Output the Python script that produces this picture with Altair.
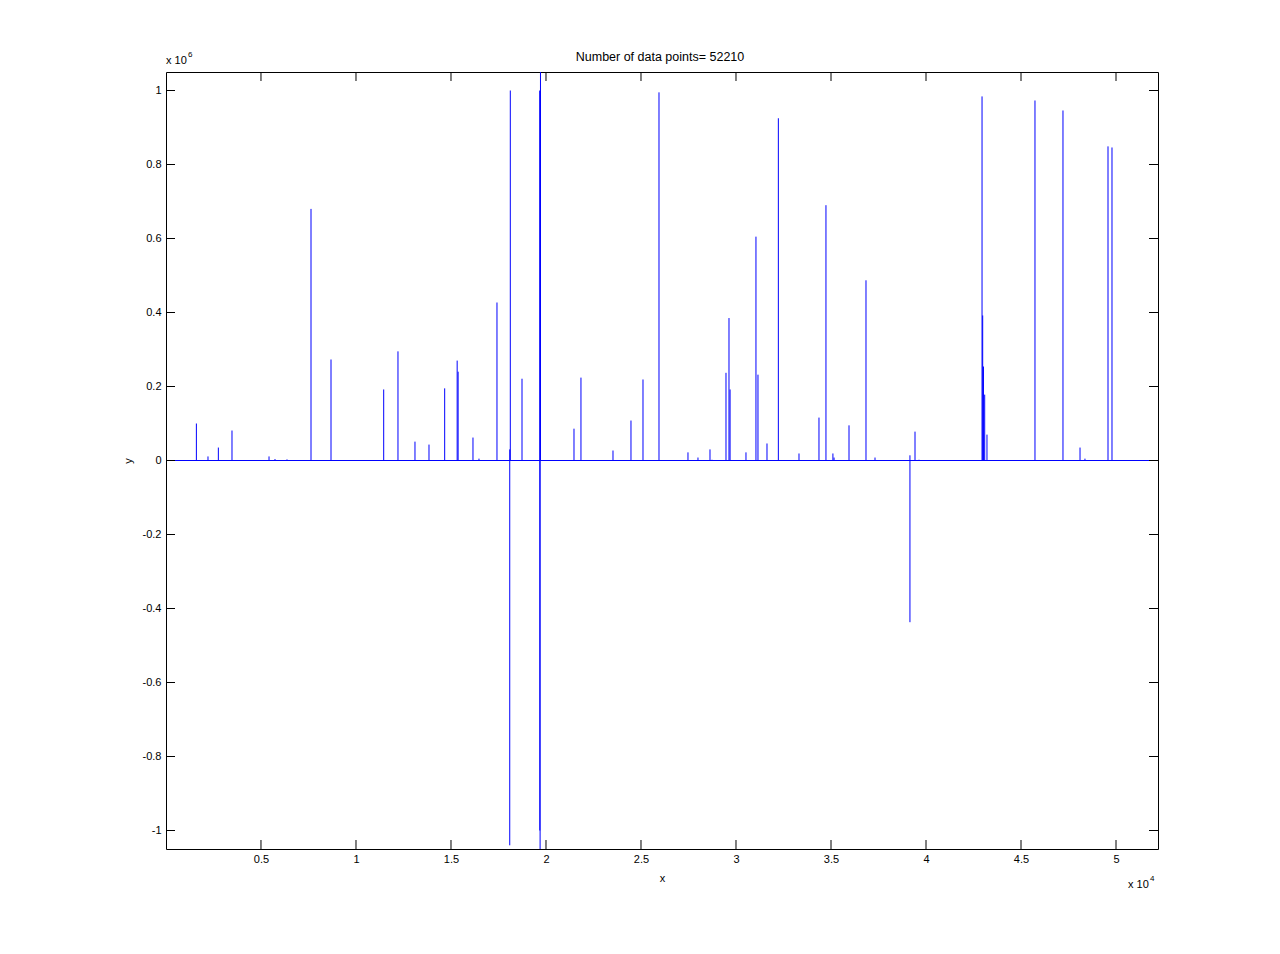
import altair as alt
import pandas as pd

# ---------------- data ----------------
x_min, x_max = 1, 52210
y_min, y_max = -1.05e6, 1.05e6

# positive spikes (x position, peak value)
spike_x = [1600, 2211, 2756, 3474, 5423, 5737, 6369, 7633, 8685, 11458,
           12210, 13105, 13842, 14668, 15325, 15375, 16157, 16473, 17420, 18092,
           18122, 18738, 19675, 19690, 19710, 21474, 21840, 23526, 24473, 25105,
           25947, 27473, 27999, 28631, 28736, 29473, 29631, 29688, 30525, 31051,
           31157, 31631, 32229, 33315, 34367, 34735, 35101, 35161, 35948, 36842,
           37316, 39155, 39421, 39631, 42949, 42984, 43024, 43089, 43209, 45735,
           47209, 48106, 48366, 49579, 49789]
spike_hi = [100000, 11000, 35000, 81000, 11000, 4000, 3000, 680000, 273000, 192000,
            295000, 51000, 43000, 195000, 270000, 240000, 62000, 5000, 427000, 30000,
            1000000, 221000, 1000000, 999000, 1300000, 86000, 224000, 27000, 108000, 219000,
            995000, 22000, 8000, 30000, 2000, 237000, 385000, 192000, 22000, 605000,
            232000, 46000, 925000, 19000, 116000, 690000, 19000, 8000, 95000, 487000,
            8000, 14000, 78000, 2000, 984000, 392000, 254000, 178000, 70000, 973000,
            946000, 35000, 5000, 849000, 846000]

# negative spikes (x position, lowest value)
neg_x = [18092, 19675, 19690, 39155]
neg_lo = [-1040000, -1000000, -1300000, -437000]

x_ticks = [5000, 10000, 15000, 20000, 25000, 30000, 35000, 40000, 45000, 50000]
y_ticks = [-1000000, -800000, -600000, -400000, -200000, 0,
           200000, 400000, 600000, 800000, 1000000]

title_text = "Number of data points= 52210"

# ---------------- chart ----------------
W, H = 992, 777
TL = 9  # tick length (inward)
BLUE = "#0000ff"
FONT = "Liberation Sans"

xs = alt.Scale(domain=[x_min, x_max], nice=False, zero=False)
ys = alt.Scale(domain=[y_min, y_max], nice=False, zero=False)

x_axis = alt.Axis(values=x_ticks, labelExpr="'' + datum.value/10000",
                  ticks=False, domain=False, grid=False, labelPadding=4,
                  title="x", titlePadding=8, labelFontSize=11, titleFontSize=11,
                  titleFontWeight="normal", labelFont=FONT, titleFont=FONT,
                  labelColor="black", titleColor="black", labelFlush=False)
y_axis = alt.Axis(values=y_ticks, labelExpr="'' + datum.value/1000000",
                  ticks=False, domain=False, grid=False, labelPadding=5,
                  title="y", titlePadding=9, labelFontSize=11, titleFontSize=11,
                  titleFontWeight="normal", labelFont=FONT, titleFont=FONT,
                  labelColor="black", titleColor="black", labelFlush=False)

X = lambda f: alt.X(f, scale=xs, axis=x_axis)
Y = lambda f: alt.Y(f, scale=ys, axis=y_axis)

pos_df = pd.DataFrame({"x": spike_x, "y": spike_hi, "y0": [0] * len(spike_x)})
neg_df = pd.DataFrame({"x": neg_x, "y": neg_lo, "y0": [0] * len(neg_x)})
base_df = pd.DataFrame({"x": [x_min], "x2": [x_max], "y": [0]})
xt_df = pd.DataFrame({"x": x_ticks})
yt_df = pd.DataFrame({"y": y_ticks})

pos = alt.Chart(pos_df).mark_rule(color=BLUE, strokeWidth=1, clip=True).encode(
    x=X("x:Q"), y=Y("y:Q"), y2="y0:Q")
neg = alt.Chart(neg_df).mark_rule(color=BLUE, strokeWidth=1, clip=True).encode(
    x=X("x:Q"), y=Y("y:Q"), y2="y0:Q")
base = alt.Chart(base_df).mark_rule(color=BLUE, strokeWidth=1, clip=True).encode(
    x=X("x:Q"), x2="x2:Q", y=Y("y:Q"))

tick_style = dict(color="black", strokeWidth=1)
t_bottom = alt.Chart(xt_df).mark_rule(**tick_style).encode(
    x=X("x:Q"), y=alt.value(H - TL), y2=alt.value(H))
t_top = alt.Chart(xt_df).mark_rule(**tick_style).encode(
    x=X("x:Q"), y=alt.value(0), y2=alt.value(TL))
t_left = alt.Chart(yt_df).mark_rule(**tick_style).encode(
    y=Y("y:Q"), x=alt.value(0), x2=alt.value(TL))
t_right = alt.Chart(yt_df).mark_rule(**tick_style).encode(
    y=Y("y:Q"), x=alt.value(W - TL), x2=alt.value(W))

def txt(s, x, y, size=11, align="left"):
    return alt.Chart(pd.DataFrame({"s": [s]})).mark_text(
        align=align, baseline="middle", fontSize=size, font=FONT, color="black"
    ).encode(x=alt.value(x), y=alt.value(y), text="s:N")

title_mark = txt(title_text, W / 2 - 2, -15, size=12.5, align="center")
exp_y_a = txt("x 10", 0, -11, size=11)
exp_y_b = txt("6", 22, -17, size=8)
exp_x_a = txt("x 10", W - 30, H + 36, size=11)
exp_x_b = txt("4", W - 8, H + 30, size=8)

chart = alt.layer(
    pos, neg, base, t_bottom, t_top, t_left, t_right,
    title_mark, exp_y_a, exp_y_b, exp_x_a, exp_x_b,
).properties(
    width=W, height=H,
    autosize=alt.AutoSizeParams(type="none"),
    padding={"left": 158, "top": 64, "right": 114, "bottom": 97},
    background="white",
).configure_view(stroke="black", strokeWidth=1)

chart.save("out.html", embed_options={"renderer": "svg", "actions": False})
